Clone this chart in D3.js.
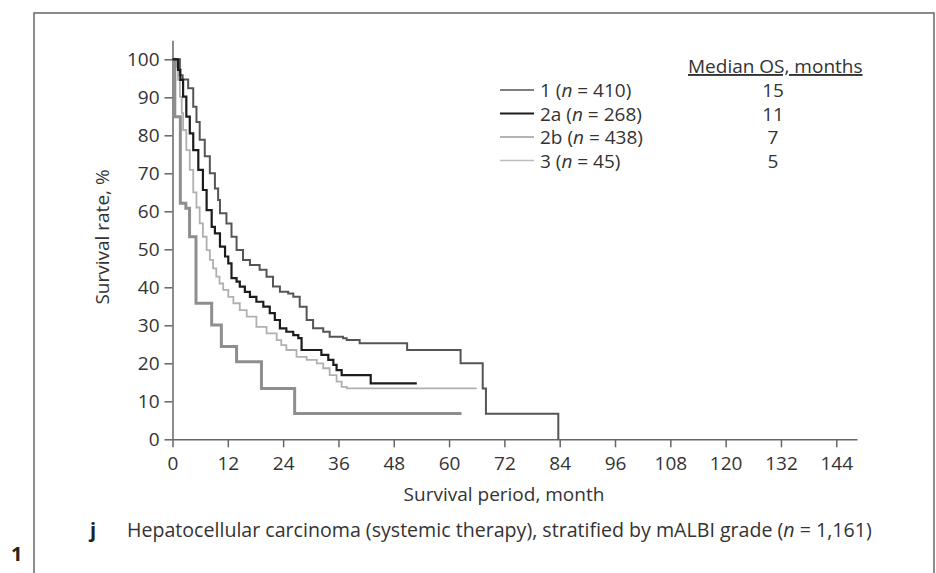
<!DOCTYPE html>
<html><head><meta charset="utf-8">
<script src="https://cdn.jsdelivr.net/npm/d3@7"></script>
<style>body{margin:0;background:#fff;} svg{display:block;} text{font-family:"Open Sans","Noto Sans",sans-serif;fill:#333;}</style>
</head><body><svg id="c" width="936" height="573"></svg>
<script>
const seriesNames = ["1", "2a", "2b", "3"];
const seriesN = [410, 268, 438, 45];
const medianOS = ["15", "11", "7", "5"];
const xTicks = [0, 12, 24, 36, 48, 60, 72, 84, 96, 108, 120, 132, 144];
const yTicks = [0, 10, 20, 30, 40, 50, 60, 70, 80, 90, 100];

const grade1 = [[0,100],[1.6,95.8],[2.2,94.7],[3.4,92.4],[4.5,87.5],[5.2,83.5],[5.9,78.8],[7,74.5],[8.1,70],[9.2,66],[9.9,63],[10.3,59.5],[11.7,56.8],[12.8,53.3],[13.9,49.8],[15.3,47.2],[16.8,45.9],[18.9,44.6],[20.4,42.8],[21.8,40.2],[23.3,38.8],[25.1,38.4],[26.2,37.5],[27.6,34.9],[29.1,31.4],[30.5,29.2],[32.7,28.3],[34.1,27],[37,26.6],[37.8,26.1],[40.6,25.3],[50.9,23.5],[62.5,20],[67.3,13.4],[68,6.7],[83.7,0]];
const grade2a = [[0,100],[1.2,97.2],[1.7,94.6],[2.3,90.2],[3,84.9],[3.75,80.5],[4.5,76.1],[5.6,70.9],[6.6,65.6],[7.4,60.3],[8.5,55.9],[9.2,54.2],[10.3,50.7],[11.4,48.1],[12.1,46.3],[12.8,42.4],[13.9,41.5],[14.6,40.2],[15.7,38.8],[16.8,37.5],[18.2,36.2],[19.7,34.9],[21.1,33.2],[22.2,31.4],[23.3,29.2],[24.7,28.3],[26.2,27.4],[27.3,26.6],[28,23.5],[32.3,22.2],[33.8,20.9],[34.9,19.6],[35.6,18.2],[36.7,16.9],[43,14.7],[53,14.7]];
const grade2b = [[0,100],[0.9,98],[1.2,94.6],[1.6,90.2],[2,85.8],[2.3,81.4],[3,76.1],[3.75,70.9],[4.5,65],[5.2,61],[5.9,56.8],[6.6,53.3],[7.4,49.8],[8.1,47.2],[8.8,45],[9.5,42.8],[10.2,41],[11,39.3],[12.1,37.5],[13.2,35.8],[14.6,34],[16.1,32.3],[18.2,29.6],[20.4,27.9],[22.6,26.1],[23.6,24.8],[24.7,23.5],[26.9,21.7],[29.1,20.9],[31.3,20],[32.7,18.7],[34.1,16.9],[35.6,15.2],[36.7,13.8],[37.8,13.4],[66,13.4]];
const grade3 = [[0,100],[0.5,84.9],[1.7,62.1],[2.9,60.8],[3.7,53.3],[5.1,35.8],[8.5,30.1],[10.6,24.4],[13.9,20.4],[19.3,13.4],[26.5,6.8],[62.7,6.8]];

const seriesData = [grade1, grade2a, grade2b, grade3];
const seriesColors = ["#555555", "#1c1c1c", "#b0b0b0", "#8e8e8e"];
const seriesWidths = [2, 2.2, 1.8, 3];
const legendColors = ["#555555", "#1c1c1c", "#9a9a9a", "#bdbdbd"];

const FS = 19;
const svg = d3.select("#c");
svg.append("path").attr("d","M34,573 V13 H934 V573").attr("fill","none").attr("stroke","#666").attr("stroke-width",1.5);
svg.append("text").attr("x",11).attr("y",561).attr("font-size",20).attr("font-weight","bold").style("fill","#222").text("1");

const x = d3.scaleLinear().domain([0,148.5]).range([172.5,857]);
const y = d3.scaleLinear().domain([0,105]).range([439.3,40.3]);

const gx = svg.append("g").attr("transform",`translate(0,${y(0)})`)
  .call(d3.axisBottom(x).tickValues(xTicks).tickSize(8).tickPadding(9).tickSizeOuter(0));
const gy = svg.append("g").attr("transform",`translate(${x(0)},0)`)
  .call(d3.axisLeft(y).tickValues(yTicks).tickSize(8).tickPadding(5).tickSizeOuter(0));
[gx,gy].forEach(g=>{
  g.select(".domain").attr("stroke","#666").attr("stroke-width",1.5);
  g.selectAll(".tick line").attr("stroke","#666").attr("stroke-width",1.5);
  g.selectAll(".tick text").attr("font-size",FS).style("fill","#333").attr("font-family","Open Sans, Noto Sans, sans-serif");
});

svg.append("text").attr("transform","translate(109,237) rotate(-90)").attr("text-anchor","middle").attr("font-size",FS).text("Survival rate, %");
svg.append("text").attr("x",504).attr("y",501).attr("text-anchor","middle").attr("font-size",FS).text("Survival period, month");
svg.append("text").attr("x",90).attr("y",537).attr("font-size",20).attr("font-weight","bold").style("fill","#222").text("j");
const cap = svg.append("text").attr("x",127).attr("y",537).attr("font-size",19.6);
cap.append("tspan").text("Hepatocellular carcinoma (systemic therapy), stratified by mALBI grade (");
cap.append("tspan").attr("font-style","italic").text("n");
cap.append("tspan").text(" = 1,161)");

const line = d3.line().x(d=>x(d[0])).y(d=>y(d[1])).curve(d3.curveStepAfter);
[2,3,0,1].forEach(i=>{
  svg.append("path").datum(seriesData[i]).attr("d",line).attr("fill","none")
    .attr("stroke",seriesColors[i]).attr("stroke-width",seriesWidths[i]).attr("stroke-linejoin","miter");
});

svg.append("text").attr("x",688).attr("y",73).attr("font-size",FS).attr("text-decoration","underline").text("Median OS, months");
seriesNames.forEach((s,i)=>{
  const yy = 90 + i*23.5;
  svg.append("line").attr("x1",500).attr("x2",534).attr("y1",yy).attr("y2",yy).attr("stroke",legendColors[i]).attr("stroke-width",i===1?2:1.5);
  const t = svg.append("text").attr("x",540).attr("y",yy+7).attr("font-size",FS);
  t.append("tspan").text(s+" (");
  t.append("tspan").attr("font-style","italic").text("n");
  t.append("tspan").text(" = "+seriesN[i]+")");
  svg.append("text").attr("x",773).attr("y",yy+7).attr("text-anchor","middle").attr("font-size",FS).text(medianOS[i]);
});
</script></body></html>
